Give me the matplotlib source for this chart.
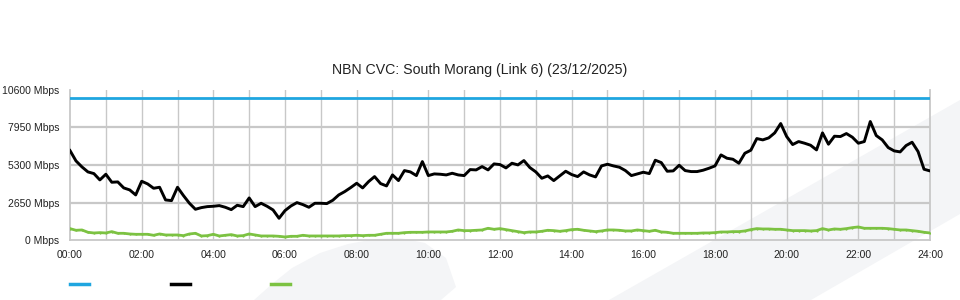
import numpy as np
import matplotlib
matplotlib.use("Agg")
import matplotlib.pyplot as plt
from matplotlib.patches import Polygon
from matplotlib.lines import Line2D

plt.rcParams['font.family'] = ['Liberation Sans', 'DejaVu Sans']

title = "NBN CVC: South Morang (Link 6) (23/12/2025)"
capacity_mbps = 10000
step_minutes = 10
x_tick_labels = ["00:00", "02:00", "04:00", "06:00", "08:00", "10:00", "12:00",
                 "14:00", "16:00", "18:00", "20:00", "22:00", "24:00"]
y_ticks = [0, 2650, 5300, 7950, 10600]
y_tick_labels = ["0 Mbps", "2650 Mbps", "5300 Mbps", "7950 Mbps", "10600 Mbps"]

download_mbps = [
    6308, 5581, 5159, 4807, 4690, 4244, 4643, 4080, 4104, 3682, 3541, 3189, 4151,
    3963, 3658, 3728, 2837, 2790, 3728, 3142, 2603, 2181, 2298, 2368, 2392,
    2439, 2322, 2157, 2462, 2368, 2978, 2368, 2603, 2392, 2134, 1548, 2087, 2415,
    2650, 2509, 2322, 2603, 2603, 2580, 2814, 3189, 3424, 3705, 4010,
    3682, 4127, 4479, 3987, 3822, 4596, 4198, 4901, 4807, 4549, 5534, 4549, 4667,
    4643, 4596, 4713, 4596, 4549, 4971, 4948, 5182, 4948, 5370, 5323,
    5089, 5417, 5300, 5605, 5112, 4807, 4362, 4526, 4198, 4526, 4854, 4620, 4479,
    4807, 4596, 4456, 5229, 5347, 5229, 5136, 4901, 4549, 4667, 4784,
    4690, 5628, 5464, 4854, 4878, 5276, 4901, 4831, 4831, 4925, 5065, 5229, 6003,
    5769, 5698, 5417, 6120, 6332, 7152, 7058, 7199, 7551, 8208, 7293,
    6730, 6941, 6824, 6683, 6355, 7551, 6754, 7316, 7293, 7504, 7246, 6824, 6941,
    8348, 7363, 7058, 6519, 6285, 6214, 6660, 6894, 6238, 4995, 4878,
]

upload_mbps = [
    821, 704, 727, 563, 516, 539, 516, 610, 492, 492, 446, 422, 422,
    422, 352, 446, 375, 375, 375, 328, 446, 492, 305, 328, 422,
    305, 352, 399, 305, 328, 446, 375, 305, 305, 305, 281, 235, 281,
    281, 352, 305, 305, 305, 305, 305, 305, 328, 328, 352,
    328, 352, 352, 422, 492, 492, 492, 539, 563, 563, 563, 586, 586,
    586, 586, 633, 727, 680, 680, 704, 727, 844, 774, 821,
    750, 680, 610, 539, 586, 586, 633, 704, 680, 633, 680, 750, 774,
    704, 657, 610, 657, 727, 727, 704, 657, 657, 727, 680,
    633, 704, 586, 563, 492, 492, 492, 492, 492, 516, 516, 539, 586,
    586, 610, 610, 657, 750, 821, 797, 797, 774, 774, 727,
    680, 680, 680, 657, 680, 821, 727, 797, 774, 821, 891, 938, 844,
    844, 844, 844, 821, 774, 727, 727, 680, 633, 563, 516,
]

hours = np.arange(len(download_mbps)) * step_minutes / 60.0

W, H = 960, 300
fig = plt.figure(figsize=(W / 100, H / 100), dpi=100)
fig.patch.set_facecolor("white")

# faint background swooshes (decoration, figure pixel coords -> fractions)
def px(pts):
    return [(x / W, 1 - y / H) for x, y in pts]

swoosh_a = [(254, 300), (272, 284), (292, 268), (320, 253), (348, 244), (375, 239),
            (400, 238), (425, 243), (446, 258), (456, 287), (441, 300)]
swoosh_b = [(609, 300), (811, 300), (960, 214), (960, 100)]
bg = fig.add_axes([0, 0, 1, 1], zorder=-5)
bg.set_xlim(0, 1)
bg.set_ylim(0, 1)
bg.axis("off")
for poly in (swoosh_a, swoosh_b):
    bg.add_patch(Polygon(px(poly), closed=True, facecolor="#f4f5f7",
                         edgecolor="none"))

ax = fig.add_axes([70 / W, 1 - 240.3 / H, 860 / W, (240.3 - 89.5) / H], zorder=1)
ax.patch.set_alpha(0)

grid_c = "#c8c8c8"
for h in range(1, 24):
    ax.axvline(h, color=grid_c, lw=1.0, zorder=1)
for v in y_ticks[1:-1]:
    ax.axhline(v, color=grid_c, lw=1.6, zorder=1)

ax.plot([0, 24], [capacity_mbps, capacity_mbps], color="#1fa6e0", lw=2.0, zorder=3,
        label="Capacity")
ax.plot(hours, upload_mbps, color="#7cc242", lw=2.0, zorder=3, marker="o",
        markersize=1.6, markeredgewidth=0, label="Upload")
ax.plot(hours, download_mbps, color="#000000", lw=2.1, zorder=4, label="Download")

ax.set_xlim(0, 24)
ax.set_ylim(0, 10600)
ax.set_xticks(np.arange(0, 25, 2))
ax.set_xticklabels(x_tick_labels)
ax.set_yticks(y_ticks)
ax.set_yticklabels(y_tick_labels)
ax.tick_params(axis="both", length=0, labelsize=7.5, colors="#222222")
ax.tick_params(axis="x", pad=7)
ax.tick_params(axis="y", pad=7.5)
for s in ("left", "bottom", "right"):
    ax.spines[s].set_color(grid_c)
    ax.spines[s].set_linewidth(1.3)
ax.spines["top"].set_visible(False)

fig.text(0.5, 1 - 70 / H, title, ha="center", va="center", fontsize=10.2,
         color="#222222")

handles = [Line2D([], [], color="#1fa6e0", lw=2.5),
           Line2D([], [], color="#000000", lw=2.5),
           Line2D([], [], color="#7cc242", lw=2.5)]
fig.legend(handles, ["", "", ""], ncol=3, loc="center left",
           bbox_to_anchor=(70 / W, 1 - 285 / H), frameon=False,
           fontsize=7.5, handlelength=1.85, handletextpad=0.0, columnspacing=7.8,
           borderpad=0, borderaxespad=0)

fig.savefig("out.png", dpi=100)
